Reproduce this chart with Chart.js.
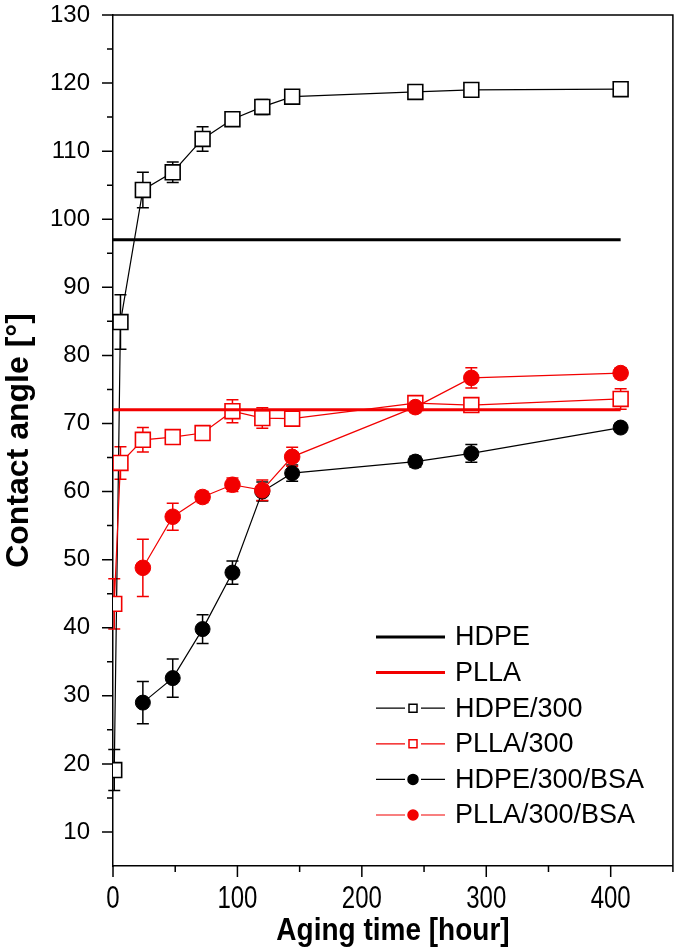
<!DOCTYPE html>
<html>
<head>
<meta charset="utf-8">
<script src="https://cdn.jsdelivr.net/npm/chart.js@4.4.0/dist/chart.umd.min.js"></script>
<style>
html, body { margin: 0; padding: 0; background: #fff; }
</style>
</head>
<body>
<canvas id="angleChart" width="685" height="949"></canvas>
<script>
// aging times (hours)
const agingTime = [1, 6, 24, 48, 72, 96, 120, 144, 243, 288, 408];
const bsaTime = [24, 48, 72, 96, 120, 144, 243, 288, 408];
const refTime = [0, 408];

// contact angles (deg) and error bars
const hdpeRef = [97, 97];
const pllaRef = [72, 72];
const hdpe300 = [19.1, 84.9, 104.3, 106.9, 111.8, 114.7, 116.5, 118.0, 118.7, 119.0, 119.1];
const hdpe300Err = [3, 4, 2.6, 1.5, 1.8, 0.5, 1.1, 0.8, 0.8, 0.6, 0.8];
const plla300 = [43.5, 64.2, 67.6, 68.0, 68.6, 71.8, 70.8, 70.7, 73.0, 72.7, 73.6];
const plla300Err = [3.7, 2.4, 1.8, 0.8, 0.6, 1.7, 1.5, 1.0, 1.0, 0.8, 1.5];
const hdpeBsa = [29.0, 32.6, 39.8, 48.1, 60.0, 62.7, 64.4, 65.6, 69.4];
const hdpeBsaErr = [3.1, 2.8, 2.1, 1.7, 1.4, 1.2, 0.8, 1.3, 0.6];
const pllaBsa = [48.8, 56.3, 59.2, 61.0, 60.2, 65.1, 72.4, 76.7, 77.4];
const pllaBsaErr = [4.2, 2.0, 0.8, 1.0, 1.5, 1.4, 0.8, 1.5, 0.8];

// axis ticks
const xTicks = [0, 100, 200, 300, 400];
const xMinorTicks = [50, 150, 250, 350, 450];
const yTicks = [10, 20, 30, 40, 50, 60, 70, 80, 90, 100, 110, 120, 130];
const yMinorTicks = [15, 25, 35, 45, 55, 65, 75, 85, 95, 105, 115, 125];
const xTitle = 'Aging time [hour]';

const RED = '#f20000';
const BLACK = '#000000';

function toPoints(xs, ys) {
    return xs.map((x, i) => ({ x: x, y: ys[i] }));
}

const tickFont = "'Liberation Sans', Arial, sans-serif";

// x labels in the source are drawn taller than wide
function tallText(ctx, text, x, y, font, stretch) {
    ctx.save();
    ctx.font = font;
    ctx.textAlign = 'center';
    ctx.textBaseline = 'alphabetic';
    ctx.translate(x, y);
    ctx.scale(1, stretch);
    ctx.fillText(text, 0, 0);
    ctx.restore();
}

// error bars, frame, minor/major ticks, x labels and the legend
const extras = {
    id: 'extras',
    beforeDatasetsDraw(chart) {
        const ctx = chart.ctx;
        const xs = chart.scales.x;
        const ys = chart.scales.y;
        ctx.save();
        chart.data.datasets.forEach((d) => {
            if (!d.errors) return;
            ctx.strokeStyle = d.borderColor;
            ctx.lineWidth = 1.5;
            d.data.forEach((p, i) => {
                const e = d.errors[i];
                const px = xs.getPixelForValue(p.x);
                const top = ys.getPixelForValue(p.y + e);
                const bot = ys.getPixelForValue(p.y - e);
                ctx.beginPath();
                ctx.moveTo(px, top); ctx.lineTo(px, bot);
                ctx.moveTo(px - 6, top); ctx.lineTo(px + 6, top);
                ctx.moveTo(px - 6, bot); ctx.lineTo(px + 6, bot);
                ctx.stroke();
            });
        });
        ctx.restore();
    },
    afterDraw(chart) {
        const ctx = chart.ctx;
        const a = chart.chartArea;
        const xs = chart.scales.x;
        const ys = chart.scales.y;
        ctx.save();
        ctx.strokeStyle = BLACK;
        ctx.lineWidth = 1.5;
        ctx.beginPath();
        ctx.moveTo(a.left, a.top); ctx.lineTo(a.right, a.top); ctx.lineTo(a.right, a.bottom);
        yTicks.forEach(v => { const py = ys.getPixelForValue(v); ctx.moveTo(a.left - 11, py); ctx.lineTo(a.left, py); });
        yMinorTicks.forEach(v => { const py = ys.getPixelForValue(v); ctx.moveTo(a.left - 6, py); ctx.lineTo(a.left, py); });
        xTicks.forEach(v => { const px = xs.getPixelForValue(v); ctx.moveTo(px, a.bottom); ctx.lineTo(px, a.bottom + 11); });
        xMinorTicks.forEach(v => { const px = xs.getPixelForValue(v); ctx.moveTo(px, a.bottom); ctx.lineTo(px, a.bottom + 6); });
        ctx.stroke();

        // x tick labels and title
        ctx.fillStyle = BLACK;
        xTicks.forEach(v => {
            tallText(ctx, String(v), xs.getPixelForValue(v), a.bottom + 42, '24px ' + tickFont, 1.3);
        });
        tallText(ctx, xTitle, (a.left + a.right) / 2, a.bottom + 74, 'bold 28px ' + tickFont, 1.15);

        // legend
        const lx = a.left + 263;
        const ly = a.top + 622;
        const step = 35.6;
        ctx.font = '27px ' + tickFont;
        ctx.textBaseline = 'middle';
        ctx.textAlign = 'left';
        chart.data.datasets.forEach((d, i) => {
            const y = ly + i * step;
            ctx.strokeStyle = d.borderColor;
            ctx.beginPath();
            if (d.pointRadius === 0) {
                ctx.lineWidth = 3;
                ctx.moveTo(lx, y); ctx.lineTo(lx + 69, y);
                ctx.stroke();
            } else {
                ctx.lineWidth = 1.2;
                ctx.moveTo(lx, y); ctx.lineTo(lx + 29, y);
                ctx.moveTo(lx + 45, y); ctx.lineTo(lx + 69, y);
                ctx.stroke();
                ctx.lineWidth = 1.5;
                ctx.fillStyle = d.pointBackgroundColor;
                ctx.beginPath();
                if (d.pointStyle === 'rect') {
                    ctx.rect(lx + 33, y - 4, 8, 8);
                } else {
                    ctx.arc(lx + 37, y, 5, 0, Math.PI * 2);
                }
                ctx.fill();
                ctx.stroke();
            }
            ctx.fillStyle = BLACK;
            ctx.fillText(d.label, lx + 79, y + 1);
        });
        ctx.restore();
    }
};

function noPadding(s) {
    s.paddingTop = 0;
    s.paddingBottom = 0;
    s.paddingLeft = 0;
    s.paddingRight = 0;
}

const ctx = document.getElementById('angleChart').getContext('2d');

window.myChart = new Chart(ctx, {
    type: 'line',
    data: {
        datasets: [
            {
                label: 'HDPE',
                data: toPoints(refTime, hdpeRef),
                borderColor: BLACK,
                borderWidth: 3,
                pointRadius: 0,
                order: 0,
            },
            {
                label: 'PLLA',
                data: toPoints(refTime, pllaRef),
                borderColor: RED,
                borderWidth: 3,
                pointRadius: 0,
                order: 0,
            },
            {
                label: 'HDPE/300',
                data: toPoints(agingTime, hdpe300),
                errors: hdpe300Err,
                borderColor: BLACK,
                borderWidth: 1.2,
                pointStyle: 'rect',
                pointRadius: 10.5,
                pointBorderWidth: 1.6,
                pointBorderColor: BLACK,
                pointBackgroundColor: '#ffffff',
                order: 4,
            },
            {
                label: 'PLLA/300',
                data: toPoints(agingTime, plla300),
                errors: plla300Err,
                borderColor: RED,
                borderWidth: 1.2,
                pointStyle: 'rect',
                pointRadius: 10.5,
                pointBorderWidth: 1.6,
                pointBorderColor: RED,
                pointBackgroundColor: '#ffffff',
                order: 3,
            },
            {
                label: 'HDPE/300/BSA',
                data: toPoints(bsaTime, hdpeBsa),
                errors: hdpeBsaErr,
                borderColor: BLACK,
                borderWidth: 1.2,
                pointStyle: 'circle',
                pointRadius: 7.5,
                pointBorderWidth: 1,
                pointBorderColor: BLACK,
                pointBackgroundColor: BLACK,
                order: 2,
            },
            {
                label: 'PLLA/300/BSA',
                data: toPoints(bsaTime, pllaBsa),
                errors: pllaBsaErr,
                borderColor: RED,
                borderWidth: 1.2,
                pointStyle: 'circle',
                pointRadius: 7.8,
                pointBorderWidth: 1,
                pointBorderColor: RED,
                pointBackgroundColor: RED,
                order: 1,
            },
        ],
    },
    options: {
        responsive: false,
        animation: false,
        devicePixelRatio: 1,
        events: [],
        layout: { padding: { top: 15, right: 4, left: 0, bottom: 0 } },
        plugins: {
            legend: { display: false },
            tooltip: { enabled: false },
        },
        scales: {
            x: {
                type: 'linear',
                min: 0,
                max: 450,
                afterFit: (s) => { s.height = 83; noPadding(s); },
                afterBuildTicks: (s) => { s.ticks = xTicks.map(v => ({ value: v })); },
                grid: { display: false, drawTicks: false },
                border: { display: true, color: BLACK, width: 1.5 },
                ticks: { display: false },
                title: { display: false },
            },
            y: {
                type: 'linear',
                min: 5,
                max: 130,
                afterFit: (s) => { s.width = 113; noPadding(s); },
                afterBuildTicks: (s) => { s.ticks = yTicks.map(v => ({ value: v })); },
                grid: { display: false, drawTicks: false },
                border: { display: true, color: BLACK, width: 1.5 },
                ticks: {
                    padding: 23,
                    color: BLACK,
                    font: { family: tickFont, size: 24 },
                },
                title: {
                    display: true,
                    text: 'Contact angle [°]',
                    color: BLACK,
                    padding: 0,
                    font: { family: tickFont, size: 32, weight: 'bold', lineHeight: 1.2 },
                },
            },
        },
    },
    plugins: [extras],
});
</script>
</body>
</html>
